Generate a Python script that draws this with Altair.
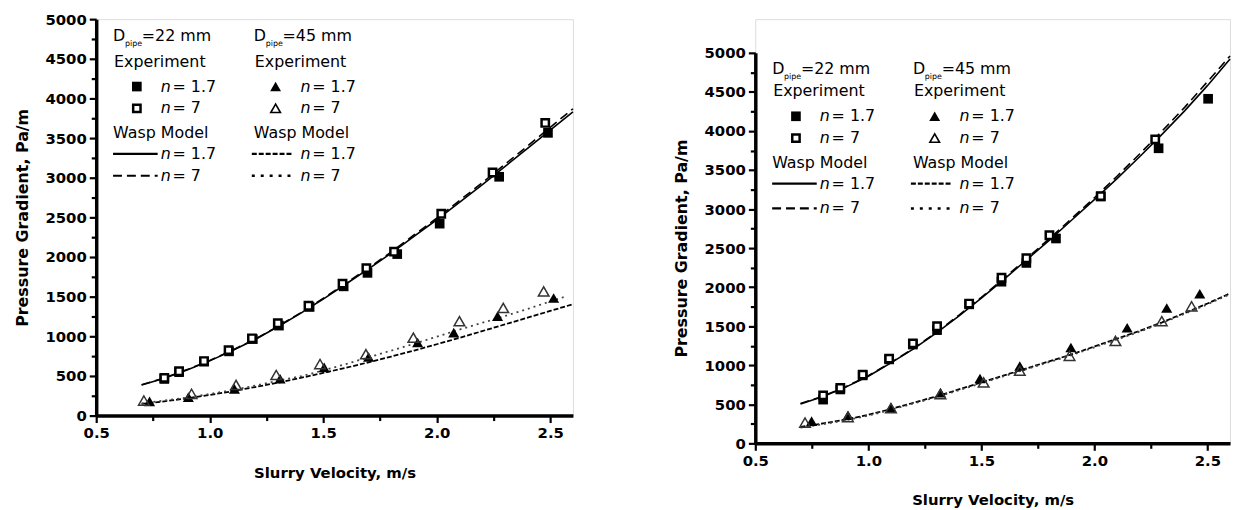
import altair as alt
import pandas as pd

# ---------------- axis ticks ----------------
X_TICKS = [0.5, 0.75, 1.0, 1.25, 1.5, 1.75, 2.0, 2.25, 2.5]
Y_TICKS = [0, 250, 500, 750, 1000, 1250, 1500, 1750, 2000, 2250, 2500,
           2750, 3000, 3250, 3500, 3750, 4000, 4250, 4500, 4750, 5000]

# ---------------- model curve velocities ----------------
V_MODEL = [0.7, 0.8, 0.9, 1.0, 1.1, 1.2, 1.3, 1.4, 1.5, 1.6, 1.7, 1.8, 1.9,
           2.0, 2.1, 2.2, 2.3, 2.4, 2.5, 2.6]
V_MODEL_DOT = [0.7, 0.8, 0.9, 1.0, 1.1, 1.2, 1.3, 1.4, 1.5, 1.6, 1.7, 1.8, 1.9,
               2.0, 2.1, 2.2, 2.3, 2.4, 2.5, 2.56]

# ================= LEFT PANEL =================
# experiment, D=22 mm (squares)
L_SQ_N17_V = [0.80, 0.865, 0.975, 1.085, 1.19, 1.305, 1.44, 1.59, 1.695, 1.826, 2.013, 2.275, 2.49]
L_SQ_N17_P = [462, 548, 680, 810, 965, 1135, 1370, 1630, 1800, 2037, 2421, 3012, 3566]
L_SQ_N7_V = [0.80, 0.865, 0.975, 1.083, 1.186, 1.30, 1.435, 1.585, 1.69, 1.812, 2.02, 2.246, 2.478]
L_SQ_N7_P = [475, 560, 688, 825, 975, 1165, 1385, 1665, 1860, 2067, 2546, 3066, 3691]
# experiment, D=45 mm (triangles)
L_TR_N17_V = [0.735, 0.906, 1.109, 1.31, 1.504, 1.70, 1.916, 2.075, 2.268, 2.515]
L_TR_N17_P = [180, 233, 337, 465, 608, 740, 921, 1046, 1254, 1483]
L_TR_N7_V = [0.71, 0.92, 1.116, 1.293, 1.486, 1.688, 1.897, 2.10, 2.293, 2.471]
L_TR_N7_P = [190, 275, 387, 512, 650, 775, 983, 1191, 1358, 1566]
# Wasp model
L_M22_N17 = [385, 470, 575, 690, 820, 960, 1120, 1290, 1470, 1660, 1850, 2050,
             2260, 2470, 2690, 2910, 3140, 3370, 3600, 3830]
L_M22_N7 = [390, 475, 580, 695, 825, 965, 1125, 1295, 1478, 1670, 1862, 2065,
            2278, 2490, 2712, 2935, 3168, 3400, 3635, 3870]
L_M45_N17 = [148, 180, 218, 260, 308, 360, 415, 475, 538, 603, 672, 745,
             820, 900, 980, 1065, 1150, 1235, 1320, 1405]
L_M45_N7 = [155, 190, 228, 272, 322, 378, 440, 495, 570, 650, 735, 820,
            905, 995, 1085, 1170, 1255, 1345, 1440, 1495]

# ================= RIGHT PANEL =================
R_SQ_N17_V = [0.80, 0.876, 0.975, 1.092, 1.197, 1.304, 1.446, 1.589, 1.699, 1.83, 2.028, 2.284, 2.503]
R_SQ_N17_P = [560, 690, 870, 1075, 1265, 1450, 1780, 2070, 2310, 2623, 3160, 3778, 4412]
R_SQ_N7_V = [0.80, 0.876, 0.975, 1.092, 1.197, 1.304, 1.446, 1.589, 1.699, 1.801, 2.028, 2.269]
R_SQ_N7_P = [615, 710, 880, 1085, 1280, 1500, 1790, 2120, 2370, 2665, 3165, 3892]
R_TR_N17_V = [0.749, 0.91, 1.10, 1.319, 1.494, 1.67, 1.896, 2.145, 2.32, 2.466]
R_TR_N17_P = [285, 360, 460, 650, 830, 990, 1227, 1481, 1734, 1916]
R_TR_N7_V = [0.72, 0.91, 1.10, 1.319, 1.51, 1.67, 1.89, 2.093, 2.298, 2.43]
R_TR_N7_P = [266, 335, 450, 630, 780, 930, 1121, 1311, 1565, 1755]
R_M22_N17 = [505, 600, 720, 860, 1030, 1210, 1410, 1630, 1860, 2100, 2350, 2600,
             2860, 3120, 3390, 3670, 3960, 4260, 4580, 4920]
R_M22_N7 = [510, 605, 725, 865, 1035, 1215, 1420, 1640, 1870, 2115, 2365, 2620,
            2880, 3145, 3420, 3705, 4000, 4305, 4630, 4960]
R_M45_N17 = [210, 255, 305, 365, 440, 520, 600, 690, 780, 870, 960, 1050,
             1140, 1240, 1340, 1440, 1550, 1670, 1790, 1920]
R_M45_N7 = [200, 245, 295, 355, 430, 510, 590, 680, 770, 860, 950, 1040,
            1130, 1230, 1330, 1430, 1540, 1660, 1780, 1910]

# ---------------- legend texts ----------------
LEG_DIAM = ["=22 mm", "=45 mm"]
LEG_HEAD = ["Experiment", "Wasp Model"]
LEG_N = ["= 1.7", "= 7"]

BLACK = "#000000"
TXT_FONT = "DejaVu Sans"
AX_FONT = "DejaVu Sans"

X_MAJOR = "abs(datum.value*2 - round(datum.value*2)) < 0.001"
Y_MAJOR = "datum.value % 500 === 0"


def make_axes():
    common = dict(
        domainColor=BLACK, domainWidth=3.5, tickColor=BLACK, tickWidth=2.2,
        labelFont=AX_FONT, labelFontSize=15, labelFontWeight="bold", labelColor=BLACK,
        titleFont=AX_FONT, titleFontWeight="bold", titleColor=BLACK,
        grid=False, labelOverlap=False, labelPadding=3,
    )
    xax = alt.Axis(title="Slurry Velocity, m/s", values=X_TICKS, format=".1f",
                   labelExpr=f"{X_MAJOR} ? datum.label : ''",
                   tickSize={"condition": {"test": X_MAJOR, "value": 7}, "value": 5},
                   labelFlush=False, titlePadding=25, titleFontSize=15, **common)
    yax = alt.Axis(title="Pressure Gradient, Pa/m", values=Y_TICKS, format="d",
                   labelExpr=f"{Y_MAJOR} ? datum.label : ''",
                   tickSize={"condition": {"test": Y_MAJOR, "value": 7}, "value": 5},
                   titlePadding=15, titleFontSize=16, **common)
    return xax, yax


def legend_layers(rows, cols):
    (xt1, xm1, xn1, l1a, l1b), (xt2, xm2, xn2, l2a, l2b) = cols
    reg, ital, sub = [], [], []
    for i, (xt, xn) in enumerate([(xt1, xn1), (xt2, xn2)]):
        reg.append({"x": xt, "y": rows[0], "t": "D"})
        reg.append({"x": xt + 29, "y": rows[0], "t": LEG_DIAM[i]})
        sub.append({"x": xt + 12, "y": rows[0] + 8, "t": "pipe"})
        reg.append({"x": xt + 1, "y": rows[1], "t": LEG_HEAD[0]})
        reg.append({"x": xt, "y": rows[4], "t": LEG_HEAD[1]})
        for r, lab in [(rows[2], LEG_N[0]), (rows[3], LEG_N[1]),
                       (rows[5], LEG_N[0]), (rows[6], LEG_N[1])]:
            ital.append({"x": xn, "y": r, "t": "n"})
            reg.append({"x": xn + 12, "y": r, "t": lab})
    px = dict(x=alt.X("x:Q", scale=None, axis=None), y=alt.Y("y:Q", scale=None, axis=None))
    layers = [
        alt.Chart(pd.DataFrame(reg)).mark_text(align="left", baseline="middle", font=TXT_FONT,
                                               fontSize=16, color=BLACK).encode(text="t:N", **px),
        alt.Chart(pd.DataFrame(ital)).mark_text(align="left", baseline="middle", font=TXT_FONT,
                                                fontSize=16, fontStyle="italic", color=BLACK).encode(text="t:N", **px),
        alt.Chart(pd.DataFrame(sub)).mark_text(align="left", baseline="middle", font=TXT_FONT,
                                               fontSize=8, color=BLACK).encode(text="t:N", **px),
        alt.Chart(pd.DataFrame([{"x": xm1, "y": rows[2]}])).mark_point(
            shape="square", filled=True, color=BLACK, size=95, opacity=1).encode(**px),
        alt.Chart(pd.DataFrame([{"x": xm1, "y": rows[3]}])).mark_point(
            shape="square", fill="white", stroke=BLACK, strokeWidth=2.5, size=55, opacity=1).encode(**px),
        alt.Chart(pd.DataFrame([{"x": xm2, "y": rows[2]}])).mark_point(
            shape="triangle-up", filled=True, color=BLACK, size=120, opacity=1).encode(**px),
        alt.Chart(pd.DataFrame([{"x": xm2, "y": rows[3]}])).mark_point(
            shape="triangle-up", filled=False, color=BLACK, strokeWidth=1.6, size=95, opacity=1).encode(**px),
    ]
    rule_px = dict(x=alt.X("x:Q", scale=None, axis=None), x2="x2:Q",
                   y=alt.Y("y:Q", scale=None, axis=None))
    for (a, b, r, dash, w) in [(l1a, l1b, rows[5], None, 2.2), (l1a, l1b, rows[6], [9, 5], 2.2),
                               (l2a, l2b, rows[5], [5, 2], 2.2), (l2a, l2b, rows[6], [3, 6], 2.6)]:
        kw = dict(color=BLACK, strokeWidth=w)
        if dash:
            kw["strokeDash"] = dash
        layers.append(alt.Chart(pd.DataFrame([{"x": a, "x2": b, "y": r}])).mark_rule(**kw).encode(**rule_px))
    return layers


def panel(sq17, sq7, tr17, tr7, m22_17, m22_7, m45_17, m45_7, rows, cols, w, h, top=0):
    xax, yax = make_axes()
    xs = alt.Scale(domain=[0.5, 2.6], nice=False, zero=False)
    if top:
        ys = alt.Scale(domain=[0, 5000], nice=False, zero=True, range=[h, top])
    else:
        ys = alt.Scale(domain=[0, 5000], nice=False, zero=True)
    enc = dict(x=alt.X("v:Q", scale=xs, axis=xax), y=alt.Y("p:Q", scale=ys, axis=yax))

    def df(v, p):
        return pd.DataFrame({"v": v, "p": p})

    layers = [
        alt.Chart(df(*m45_17)).mark_line(color=BLACK, strokeWidth=1.8, strokeDash=[5, 2]).encode(**enc),
        alt.Chart(df(*m45_7)).mark_line(color="#444444", strokeWidth=1.8, strokeDash=[2, 4]).encode(**enc),
        alt.Chart(df(*m22_17)).mark_line(color=BLACK, strokeWidth=1.6).encode(**enc),
        alt.Chart(df(*m22_7)).mark_line(color=BLACK, strokeWidth=1.6, strokeDash=[9, 5]).encode(**enc),
        alt.Chart(df(*sq17)).mark_point(shape="square", filled=True, color=BLACK, size=95,
                                        opacity=1).encode(**enc),
        alt.Chart(df(*sq7)).mark_point(shape="square", fill="white", stroke=BLACK, strokeWidth=2.5,
                                       size=55, opacity=1).encode(**enc),
        alt.Chart(df(*tr17)).mark_point(shape="triangle-up", filled=True, color=BLACK, size=125,
                                         opacity=1).encode(**enc),
        alt.Chart(df(*tr7)).mark_point(shape="triangle-up", filled=False, color="#333333",
                                        strokeWidth=1.5, size=115, opacity=1).encode(**enc),
    ]
    layers += legend_layers([r + top for r in rows], cols)
    return alt.layer(*layers).properties(width=w, height=h)


COLS = [(17, 41, 65, 17, 62), (159, 181, 206, 157, 197)]

left = panel((L_SQ_N17_V, L_SQ_N17_P), (L_SQ_N7_V, L_SQ_N7_P),
             (L_TR_N17_V, L_TR_N17_P), (L_TR_N7_V, L_TR_N7_P),
             (V_MODEL, L_M22_N17), (V_MODEL, L_M22_N7),
             (V_MODEL, L_M45_N17), (V_MODEL_DOT, L_M45_N7),
             rows=[17, 43, 68, 90, 115, 136, 158], cols=COLS, w=481, h=400)

# right panel: view starts at same top as the left one; its plot area starts 34 px lower
right = panel((R_SQ_N17_V, R_SQ_N17_P), (R_SQ_N7_V, R_SQ_N7_P),
              (R_TR_N17_V, R_TR_N17_P), (R_TR_N7_V, R_TR_N7_P),
              (V_MODEL, R_M22_N17), (V_MODEL, R_M22_N7),
              (V_MODEL, R_M45_N17), (V_MODEL, R_M45_N7),
              rows=[16, 39, 64, 86, 111, 132, 157], cols=COLS, w=479, h=428, top=34)

chart = alt.hconcat(left, right, spacing=95).properties(
    padding={"left": 5, "top": 1, "right": 0, "bottom": 0}
).configure_view(stroke=None).configure(background="white")

chart.save("out.html", embed_options={"renderer": "svg", "actions": False})
